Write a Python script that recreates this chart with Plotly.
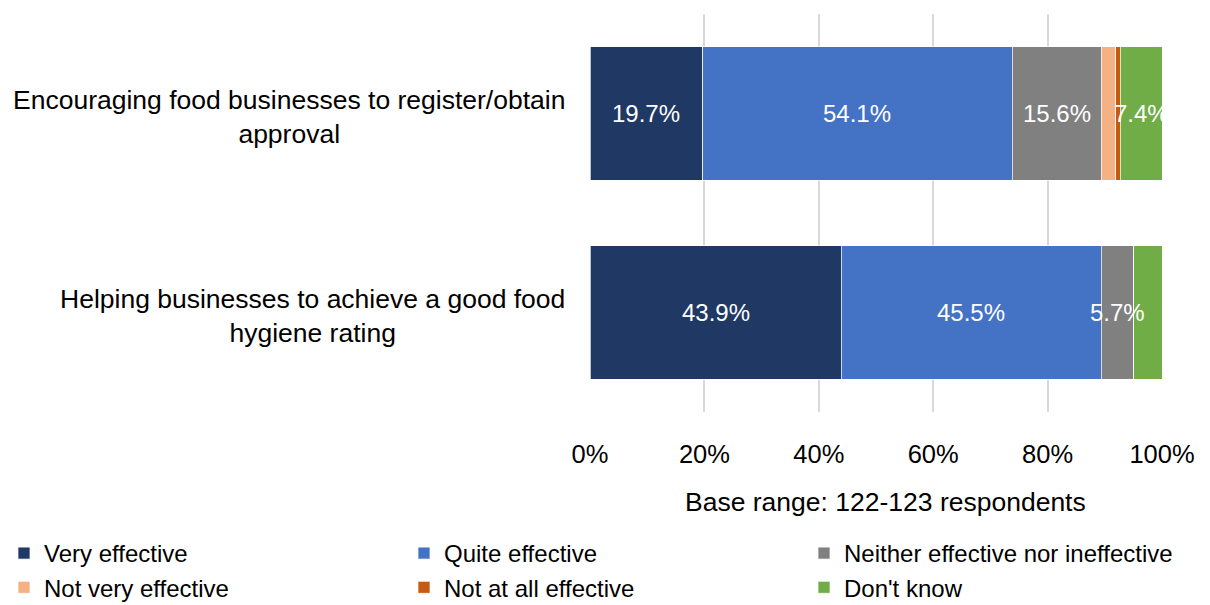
import plotly.graph_objects as go

# Survey items (top to bottom)
categories = [
    "Encouraging food businesses to register/obtain<br>approval",
    "Helping businesses to achieve a good food<br>hygiene rating",
]

# Response shares (%) per item
very_effective = [19.7, 43.9]
quite_effective = [54.1, 45.5]
neither = [15.6, 5.7]
not_very_effective = [2.5, 0.0]
not_at_all_effective = [0.8, 0.0]
dont_know = [7.4, 4.9]

series_names = [
    "Very effective",
    "Quite effective",
    "Neither effective nor ineffective",
    "Not very effective",
    "Not at all effective",
    "Don't know",
]
series_values = [
    very_effective,
    quite_effective,
    neither,
    not_very_effective,
    not_at_all_effective,
    dont_know,
]
series_colors = ["#203864", "#4472C4", "#808080", "#F4B183", "#C55A11", "#70AD47"]

tick_values = [0, 20, 40, 60, 80, 100]
tick_labels = ["0%", "20%", "40%", "60%", "80%", "100%"]
base_note = "Base range: 122-123 respondents"

FONT = "Liberation Sans, Arial, sans-serif"
LABEL_MIN = 5  # smaller segments carry no value label

fig = go.Figure()
for name, vals, color in zip(series_names, series_values, series_colors):
    fig.add_trace(
        go.Bar(
            name=name,
            y=categories,
            x=vals,
            orientation="h",
            width=0.67,
            marker=dict(color=color, line=dict(color="rgba(255,255,255,0.7)", width=1)),
            hoverinfo="skip",
        )
    )

# Value labels centred on each segment, drawn above all bars
for ci, cat in enumerate(categories):
    start = 0.0
    for vals in series_values:
        v = vals[ci]
        if v >= LABEL_MIN:
            fig.add_annotation(
                x=start + v / 2, xref="x", y=cat, yref="y",
                text=f"{v:.1f}%", showarrow=False,
                xanchor="center", yanchor="middle",
                font=dict(family=FONT, size=24, color="white"),
            )
        start += v

# Category labels, centred lines, right-aligned block
for cat in categories:
    fig.add_annotation(
        x=-0.0371, xref="paper", y=cat, yref="y", yshift=-3,
        text=cat, showarrow=False, xanchor="right", yanchor="middle",
        align="center", font=dict(family=FONT, size=26.5, color="#000000"),
    )

fig.add_annotation(
    x=0.4774, xref="paper", y=-0.226, yref="paper",
    text=base_note, showarrow=False, xanchor="center", yanchor="middle",
    font=dict(family=FONT, size=26.5, color="#000000"),
)

fig.update_layout(
    width=1210,
    height=605,
    margin=dict(l=590, r=0, t=14, b=193, pad=0, autoexpand=False),
    barmode="stack",
    plot_bgcolor="white",
    paper_bgcolor="white",
    font=dict(family=FONT, color="#000000"),
    xaxis=dict(
        domain=[0, 572 / 620],
        range=[0, 100],
        tickvals=tick_values,
        ticktext=tick_labels,
        showgrid=True,
        gridcolor="#D9D9D9",
        gridwidth=2,
        zeroline=False,
        showline=False,
        ticks="",
        ticklabelstandoff=24,
        tickfont=dict(family=FONT, size=25.5, color="#000000"),
        fixedrange=True,
    ),
    yaxis=dict(
        type="category",
        categoryorder="array",
        categoryarray=categories,
        range=[1.5, -0.5],
        showticklabels=False,
        showgrid=False,
        zeroline=False,
        showline=False,
        ticks="",
        fixedrange=True,
    ),
    showlegend=True,
    legend=dict(
        orientation="h",
        x=(4 - 590) / 620,
        xanchor="left",
        y=-0.299,
        yanchor="top",
        entrywidth=355,
        entrywidthmode="pixels",
        traceorder="normal",
        font=dict(family=FONT, size=24, color="#000000"),
        itemclick=False,
        itemdoubleclick=False,
        tracegroupgap=0,
    ),
)

fig.write_html("out.html")
